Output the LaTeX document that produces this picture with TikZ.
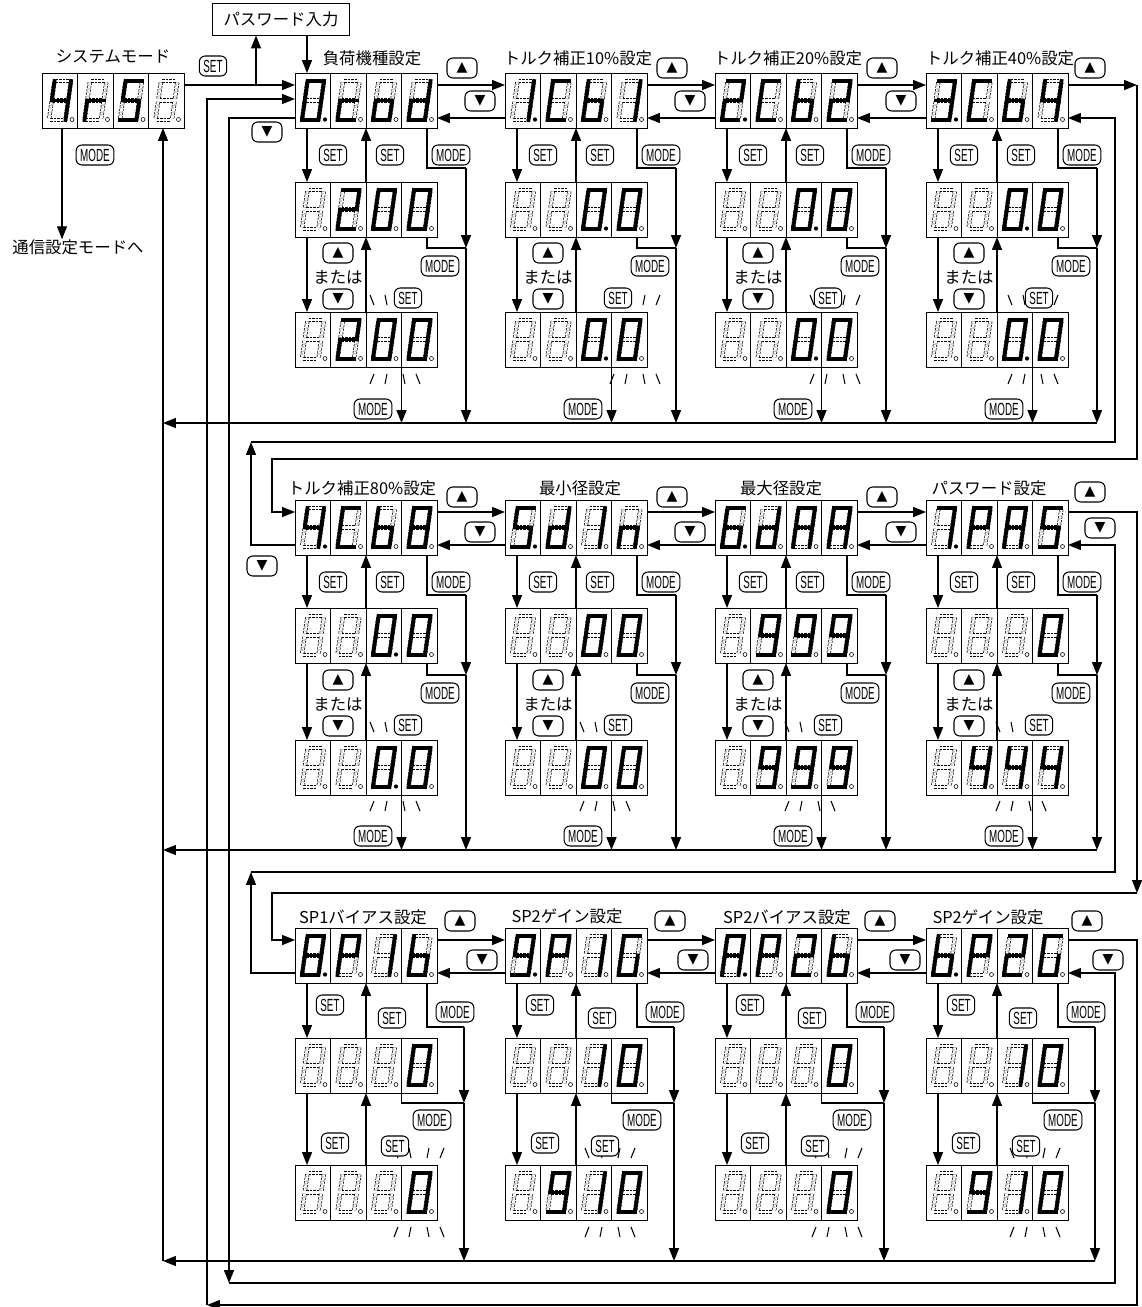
\documentclass[tikz,border=0pt]{standalone}
\usepackage{fontspec}
\setmainfont{Noto Sans CJK JP}
\newfontfamily\btnfont{Liberation Sans}[FakeStretch=0.56]
\newfontfamily\symfont{DejaVu Sans}
\usetikzlibrary{arrows.meta, calc}

% segment end points inside one digit cell (px)
\newcommand\sga{12.5/8/29/8}
\newcommand\sgb{29/8/26.25/27.5}
\newcommand\sgc{26.25/27.5/23.5/47}
\newcommand\sgd{7/47/23.5/47}
\newcommand\sge{9.75/27.5/7/47}
\newcommand\sgf{12.5/8/9.75/27.5}
\newcommand\sgg{9.75/27.5/26.25/27.5}
\def\ghostline#1/#2/#3/#4\relax{\draw[ghostseg] (#1,#2) -- (#3,#4);}
\def\litline#1/#2/#3/#4\relax{\draw[litseg] (#1,#2) -- (#3,#4);}
\newcommand\ghostpart[1]{\edef\segtmp{\csname sg#1\endcsname}\expandafter\ghostline\segtmp\relax}
\newcommand\litpart[1]{\edef\segtmp{\csname sg#1\endcsname}\expandafter\litline\segtmp\relax}
\def\dpsplit#1#2#3#4\relax{\def\dpA{#1}\def\dpB{#2}\def\dpC{#3}\def\dpD{#4}}

% one digit: x, y, lit segments, decimal point (1 = lit)
\newcommand\dcell[4]{%
  \begin{scope}[shift={(#1,#2)}]
    \foreach \s in {a,b,c,d,e,f,g}{\ghostpart{\s}}
    \foreach \s in {#3}{\ifx\s\empty\else\litpart{\s}\fi}
    \ifnum#4=1 \fill (30,46.5) circle (1.8pt);\else\draw[line width=0.5pt] (30,46.5) circle (1.7pt);\fi
  \end{scope}}

% display: name, x, y, four cells, decimal points
\newcommand\panel[8]{%
  \node[panelbox, anchor=north west] (#1) at (#2,#3) {};
  \foreach \k in {1,2,3}{\draw[cellsep] (#2+35.5*\k,#3) -- (#2+35.5*\k,#3+55);}
  \dpsplit#8\relax
  \dcell{#2}{#3}{#4}{\dpA}%
  \dcell{#2+35.5}{#3}{#5}{\dpB}%
  \dcell{#2+71}{#3}{#6}{\dpC}%
  \dcell{#2+106.5}{#3}{#7}{\dpD}%
  \coordinate (#1-u1) at (#2+12,#3);
  \coordinate (#1-d1) at (#2+12,#3+55);
  \coordinate (#1-u2) at (#2+71,#3);
  \coordinate (#1-d2) at (#2+71,#3+55);
  \coordinate (#1-d3) at (#2+106.5,#3+55);
  \coordinate (#1-d4) at (#2+132,#3+55);
  \coordinate (#1-r1) at (#2+142,#3+12);
  \coordinate (#1-r2) at (#2+142,#3+45);
  \coordinate (#1-l1) at (#2,#3+12);
  \coordinate (#1-l2) at (#2,#3+45);}

% flashing marks round a digit group
\newcommand\blink[3]{%
  \draw[ray] (#1-25,#2-17) -- (#1-21,#2-7);
  \draw[ray] (#1-10,#2-17) -- (#1-8,#2-7);
  \draw[ray] (#1+10,#2-17) -- (#1+8,#2-7);
  \draw[ray] (#1+25,#2-17) -- (#1+21,#2-7);
  \draw[ray] (#1-25,#3+17) -- (#1-21,#3+7);
  \draw[ray] (#1-10,#3+17) -- (#1-8,#3+7);
  \draw[ray] (#1+10,#3+17) -- (#1+8,#3+7);
  \draw[ray] (#1+25,#3+17) -- (#1+21,#3+7);}

% keys and wires of one column (rows 1 and 2)
\newcommand\wiresA[4]{%
  \blink{#2+#4}{#3+239}{#3+294}%
  \coordinate (#1-k1) at (#2+171,#3+95);
  \coordinate (#1-k2) at (#2+171,#3+175);
  \coordinate (#1-rt) at (#2+171,#3+350);
  \draw[arr] (#1t-d1) -- (#1m-u1);
  \draw[arr] (#1m-u2) -- (#1t-d2);
  \draw[wire] (#1t-d4) |- (#1-k1);
  \draw[arr] (#1-k1) -- (#1-k2);
  \draw[wire] (#1m-d4) |- (#1-k2);
  \draw[arr] (#1-k2) -- (#1-rt);
  \draw[arr] (#1m-d1) -- (#1b-u1);
  \draw[arr] (#1b-u2) -- (#1m-d2);
  \draw[arr] (#1b-d3) -- (#1b-d3 |- #1-rt);
  \node[btn] (#1-set1) at (#2+38,#3+82) {SET};
  \node[btn] (#1-set2) at (#2+95,#3+82) {SET};
  \node[btn] (#1-mode1) at (#2+156,#3+82) {MODE};
  \node[btn] (#1-mode2) at (#2+145,#3+193) {MODE};
  \node[tribtn] (#1-up) at (#2+43,#3+180) {▲};
  \node[title] (#1-or) at (#2+43,#3+204) {または};
  \node[tribtn] (#1-dn) at (#2+43,#3+226) {▼};
  \node[btn] (#1-set3) at (#2+113,#3+225) {SET};
  \node[btn] (#1-mode3) at (#2+78,#3+336) {MODE};}

% keys and wires of one column (row 3)
\newcommand\wiresB[4]{%
  \blink{#2+#4}{#3+237}{#3+292}%
  \coordinate (#1-k1) at (#2+169,#3+99);
  \coordinate (#1-k2) at (#2+169,#3+175);
  \coordinate (#1-rt) at (#2+169,#3+333);
  \draw[arr] (#1t-d1) -- (#1m-u1);
  \draw[arr] (#1m-u2) -- (#1t-d2);
  \draw[wire] (#1t-d4) |- (#1-k1);
  \draw[arr] (#1-k1) -- (#1-k2);
  \draw[wire] (#1m-d3) |- (#1-k2);
  \draw[arr] (#1-k2) -- (#1-rt);
  \draw[arr] (#1m-d1) -- (#1b-u1);
  \draw[arr] (#1b-u2) -- (#1m-d2);
  \node[btn] (#1-set1) at (#2+35,#3+77) {SET};
  \node[btn] (#1-set2) at (#2+97,#3+90) {SET};
  \node[btn] (#1-mode1) at (#2+160,#3+84) {MODE};
  \node[btn] (#1-mode2) at (#2+137,#3+192) {MODE};
  \node[btn] (#1-set3) at (#2+40,#3+215) {SET};
  \node[btn] (#1-set4) at (#2+100,#3+218) {SET};}

\begin{document}
\begin{tikzpicture}[x=0.03cm, y=-0.03cm,
    panelbox/.style={draw, line width=0.6pt, minimum width=4.26cm, minimum height=1.65cm, inner sep=0pt},
    cellsep/.style={line width=0.6pt},
    ghostseg/.style={line width=0.6pt, double=white, double distance=2.4pt,
                     dash pattern=on 2pt off 1pt, shorten <=1.2pt, shorten >=1.2pt},
    litseg/.style={line width=3.2pt, line cap=rect},
    wire/.style={line width=1.1pt},
    arr/.style={wire, -{Triangle[length=11pt,width=8.5pt]}},
    ray/.style={line width=0.9pt},
    btn/.style={draw, fill=white, line width=0.9pt, rounded corners=5pt, inner xsep=3.5pt,
                inner ysep=0pt, minimum height=0.6cm, font=\btnfont\fontsize{15}{15}\selectfont},
    tribtn/.style={btn, minimum width=0.9cm, font=\symfont\fontsize{12}{12}\selectfont},
    title/.style={font=\fontsize{14}{16}\selectfont, inner sep=0pt}
]
\useasboundingbox (0,0) rectangle (1142,1307);

%% system mode and password entry
\panel{sys}{42}{73}{f,g,b,c}{e,g}{a,f,g,c,d}{}{0000}
\node[title] (tsys) at (113,57) {システムモード};
\node[draw, line width=0.8pt, minimum width=4.11cm, minimum height=0.96cm, title] (pwbox) at (281,19) {パスワード入力};
\node[title] (comm) at (78,247) {通信設定モードへ};
\coordinate (sysout) at (62,128);
\coordinate (sysin) at (163,128);
\coordinate (jpw) at (256,85);

%% row 1
\panel{a1t}{295}{73}{a,b,c,d,e,f}{g,e,d}{g,c,d,e}{b,c,d,e,g}{1000}
\panel{a1m}{295}{182}{}{a,b,g,e,d}{a,b,c,d,e,f}{a,b,c,d,e,f}{0000}
\panel{a1b}{295}{312}{}{a,b,g,e,d}{a,b,c,d,e,f}{a,b,c,d,e,f}{0000}
\panel{a2t}{505}{73}{b,c}{a,f,e,d}{f,e,d,c,g}{b,c}{1000}
\panel{a2m}{505}{182}{}{}{a,b,c,d,e,f}{a,b,c,d,e,f}{0010}
\panel{a2b}{505}{312}{}{}{a,b,c,d,e,f}{a,b,c,d,e,f}{0010}
\panel{a3t}{715}{73}{a,b,g,e,d}{a,f,e,d}{f,e,d,c,g}{a,b,g,e,d}{1000}
\panel{a3m}{715}{182}{}{}{a,b,c,d,e,f}{a,b,c,d,e,f}{0010}
\panel{a3b}{715}{312}{}{}{a,b,c,d,e,f}{a,b,c,d,e,f}{0010}
\panel{a4t}{926}{73}{a,b,g,c,d}{a,f,e,d}{f,e,d,c,g}{f,g,b,c}{1000}
\panel{a4m}{926}{182}{}{}{a,b,c,d,e,f}{a,b,c,d,e,f}{0010}
\panel{a4b}{926}{312}{}{}{a,b,c,d,e,f}{a,b,c,d,e,f}{0010}
\node[title] (ta1) at (372,58) {負荷機種設定};
\node[title] (ta2) at (578,58) {トルク補正10\%設定};
\node[title] (ta3) at (788,58) {トルク補正20\%設定};
\node[title] (ta4) at (1000,58) {トルク補正40\%設定};
\coordinate (a1t-l3) at (295,99);

%% row 2
\panel{b1t}{295}{500}{f,g,b,c}{a,f,e,d}{f,e,d,c,g}{a,b,c,d,e,f,g}{1000}
\panel{b1m}{295}{608}{}{}{a,b,c,d,e,f}{a,b,c,d,e,f}{0010}
\panel{b1b}{295}{740}{}{}{a,b,c,d,e,f}{a,b,c,d,e,f}{0010}
\panel{b2t}{505}{500}{a,f,g,c,d}{b,c,d,e,g}{b,c}{c,e,g}{1000}
\panel{b2m}{505}{608}{}{}{a,b,c,d,e,f}{a,b,c,d,e,f}{0000}
\panel{b2b}{505}{740}{}{}{a,b,c,d,e,f}{a,b,c,d,e,f}{0000}
\panel{b3t}{715}{500}{a,f,g,e,d,c}{b,c,d,e,g}{a,b,c,e,f,g}{a,b,c,e,f,g}{1000}
\panel{b3m}{715}{608}{}{a,b,c,d,f,g}{a,b,c,d,f,g}{a,b,c,d,f,g}{0000}
\panel{b3b}{715}{740}{}{a,b,c,d,f,g}{a,b,c,d,f,g}{a,b,c,d,f,g}{0000}
\panel{b4t}{926}{500}{a,b,c}{a,b,f,g,e}{a,b,c,e,f,g}{a,f,g,c,d}{1000}
\panel{b4m}{926}{608}{}{}{}{a,b,c,d,e,f}{0000}
\panel{b4b}{926}{740}{}{f,g,b,c}{f,g,b,c}{f,g,b,c}{0000}
\node[title] (tb1) at (362,488) {トルク補正80\%設定};
\node[title] (tb2) at (580,488) {最小径設定};
\node[title] (tb3) at (781,488) {最大径設定};
\node[title] (tb4) at (989,488) {パスワード設定};

%% row 3
\panel{c1t}{295}{928}{a,b,c,d,e,f,g}{a,b,f,g,e}{b,c}{f,e,d,c,g}{1000}
\panel{c1m}{295}{1038}{}{}{}{a,b,c,d,e,f}{0000}
\panel{c1b}{295}{1165}{}{}{}{a,b,c,d,e,f}{0000}
\panel{c2t}{505}{928}{a,b,c,d,f,g}{a,b,f,g,e}{b,c}{a,f,e,d,c}{1000}
\panel{c2m}{505}{1038}{}{}{b,c}{a,b,c,d,e,f}{0000}
\panel{c2b}{505}{1165}{}{a,b,c,d,f,g}{b,c}{a,b,c,d,e,f}{0000}
\panel{c3t}{715}{928}{a,b,c,e,f,g}{a,b,f,g,e}{a,b,g,e,d}{f,e,d,c,g}{1000}
\panel{c3m}{715}{1038}{}{}{}{a,b,c,d,e,f}{0000}
\panel{c3b}{715}{1165}{}{}{}{a,b,c,d,e,f}{0000}
\panel{c4t}{926}{928}{f,e,d,c,g}{a,b,f,g,e}{a,b,g,e,d}{a,f,e,d,c}{1000}
\panel{c4m}{926}{1038}{}{}{b,c}{a,b,c,d,e,f}{0000}
\panel{c4b}{926}{1165}{}{a,b,c,d,f,g}{b,c}{a,b,c,d,e,f}{0000}
\node[title] (tc1) at (363,917) {SP1バイアス設定};
\node[title] (tc2) at (567,916) {SP2ゲイン設定};
\node[title] (tc3) at (787,917) {SP2バイアス設定};
\node[title] (tc4) at (988,917) {SP2ゲイン設定};

%% system mode wires
\draw[arr] (sys-r1) -- (a1t-l1);
\draw[arr] (jpw) -- (jpw |- pwbox.south);
\draw[arr] (a1t-u1 |- pwbox.south) -- (a1t-u1);
\draw[arr] (sysout) -- (sysout |- comm.north);
\node[btn] (sysset) at (213,66) {SET};
\node[btn] (sysmode) at (95,155) {MODE};

%% columns
\wiresA{a1}{295}{73}{100}
\wiresA{a2}{505}{73}{130}
\wiresA{a3}{715}{73}{120}
\wiresA{a4}{926}{73}{107}
\wiresA{b1}{295}{500}{100}
\wiresA{b2}{505}{500}{100}
\wiresA{b3}{715}{500}{95}
\wiresA{b4}{926}{500}{95}
\wiresB{c1}{295}{928}{124}
\wiresB{c2}{505}{928}{105}
\wiresB{c3}{715}{928}{122}
\wiresB{c4}{926}{928}{109}

%% up / down between settings
\draw[arr] (a1t-r1) -- (a2t-l1);
\draw[arr] (a2t-l2) -- (a1t-r2);
\draw[arr] (a2t-r1) -- (a3t-l1);
\draw[arr] (a3t-l2) -- (a2t-r2);
\draw[arr] (a3t-r1) -- (a4t-l1);
\draw[arr] (a4t-l2) -- (a3t-r2);
\draw[arr] (b1t-r1) -- (b2t-l1);
\draw[arr] (b2t-l2) -- (b1t-r2);
\draw[arr] (b2t-r1) -- (b3t-l1);
\draw[arr] (b3t-l2) -- (b2t-r2);
\draw[arr] (b3t-r1) -- (b4t-l1);
\draw[arr] (b4t-l2) -- (b3t-r2);
\draw[arr] (c1t-r1) -- (c2t-l1);
\draw[arr] (c2t-l2) -- (c1t-r2);
\draw[arr] (c2t-r1) -- (c3t-l1);
\draw[arr] (c3t-l2) -- (c2t-r2);
\draw[arr] (c3t-r1) -- (c4t-l1);
\draw[arr] (c4t-l2) -- (c3t-r2);

%% row to row loops
\coordinate (k1b) at (272,459);
\coordinate (k2) at (251,442);
\coordinate (k3) at (1137,893);
\coordinate (k3b) at (272,893);
\coordinate (k4) at (251,872);
\coordinate (k5) at (207,1305);
\coordinate (k6) at (229,1283);
\draw[arr] (a4t-r1) -- ++(69,0) coordinate (k1);
\draw[arr] (k1) |- (k1b) |- (b1t-l1);
\draw[arr] (b1t-l2) -| (k2);
\draw[arr] (k2) -| ($(a4t-r2)+(47,0)$) -- (a4t-r2);
\draw[arr] (b4t-r1) -| (k3);
\draw[arr] (k3) -- (k3b) |- (c1t-l1);
\draw[arr] (c1t-l2) -| (k4);
\draw[arr] (k4) -| ($(b4t-r2)+(47,0)$) -- (b4t-r2);
\draw[arr] (c4t-r1) -- ++(69,0) |- (k5);
\draw[arr] (k5) |- (a1t-l3);
\draw[arr] (a1t-l2) -| (k6);
\draw[arr] (k6) -| ($(c4t-r2)+(47,0)$) -- (c4t-r2);

%% MODE returns to system mode
\draw[arr] (a4-rt) -- (a4-rt -| sysin);
\draw[arr] (b4-rt) -- (b4-rt -| sysin);
\draw[arr] (c4-rt) -- (c4-rt -| sysin);
\draw[arr] (c4-rt -| sysin) -- (sysin);

%% key marks between settings
\node[tribtn] (a12-up) at (462,68) {▲};
\node[tribtn] (a12-dn) at (480,101) {▼};
\node[tribtn] (a23-up) at (672,68) {▲};
\node[tribtn] (a23-dn) at (690,101) {▼};
\node[tribtn] (a34-up) at (882,68) {▲};
\node[tribtn] (a34-dn) at (901,101) {▼};
\node[tribtn] (a4-up) at (1090,68) {▲};
\node[tribtn] (a1-dn) at (267,132) {▼};
\node[tribtn] (b12-up) at (462,497) {▲};
\node[tribtn] (b12-dn) at (480,532) {▼};
\node[tribtn] (b23-up) at (672,497) {▲};
\node[tribtn] (b23-dn) at (690,532) {▼};
\node[tribtn] (b34-up) at (882,497) {▲};
\node[tribtn] (b34-dn) at (901,532) {▼};
\node[tribtn] (b4-up) at (1090,492) {▲};
\node[tribtn] (b4-dn) at (1100,528) {▼};
\node[tribtn] (b1-dn) at (262,566) {▼};
\node[tribtn] (c12-up) at (460,921) {▲};
\node[tribtn] (c12-dn) at (482,960) {▼};
\node[tribtn] (c23-up) at (670,921) {▲};
\node[tribtn] (c23-dn) at (693,960) {▼};
\node[tribtn] (c34-up) at (880,921) {▲};
\node[tribtn] (c34-dn) at (905,960) {▼};
\node[tribtn] (c4-up) at (1087,921) {▲};
\node[tribtn] (c4-dn) at (1108,960) {▼};

\end{tikzpicture}
\end{document}
